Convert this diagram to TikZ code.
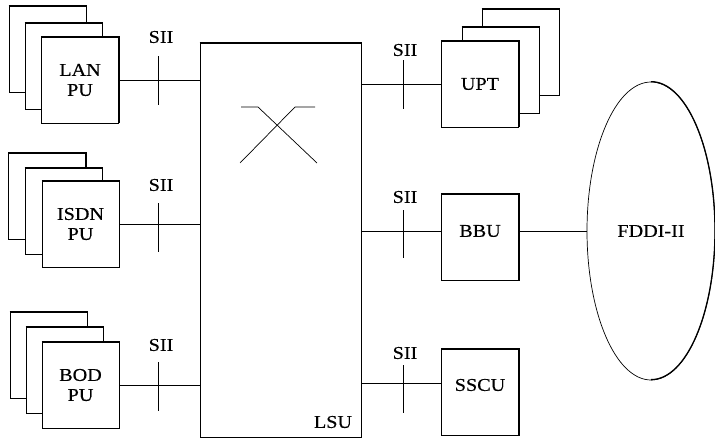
\documentclass[tikz,border=0pt]{standalone}
\usepackage{fontspec}
\setmainfont{Liberation Serif}[FakeStretch=1.12, FakeBold=0.4]
\usetikzlibrary{shapes.geometric}
\newcommand\lblfont{\fontsize{18}{20}\selectfont}
\tikzset{
  conn/.style={line width=0.7pt},
  tickmark/.style={line width=0.7pt},
  heavy/.style={line width=1.6pt},
  card/.style={draw, line width=0.7pt, fill=white, minimum width=77pt, minimum height=86pt,
    inner sep=0pt, align=center, font=\lblfont},
  lbl/.style={font=\lblfont, inner sep=0pt},
}
\newcommand\pucard[3]{%
  \node[card] (#1) at (#2) {#3};
  \draw[heavy] (#1.north west) -- (#1.north east) -- (#1.south east);}
\begin{document}
\begin{tikzpicture}[x=1pt, y=-1pt]
\useasboundingbox (0,0) rectangle (715,439);
% LAN PU stack
\pucard{lanc}{47.5,49.5}{}
\pucard{lanb}{63.5,66}{}
\pucard{lan}{80,80}{LAN\\PU}
% ISDN PU stack
\pucard{isdnc}{47,196}{}
\pucard{isdnb}{63.5,211}{}
\pucard{isdn}{80.5,224}{ISDN\\PU}
% BOD PU stack
\pucard{bodc}{48.5,355}{}
\pucard{bodb}{64.5,370}{}
\pucard{bod}{80.5,385}{BOD\\PU}
% UPT stack
\pucard{uptc}{520.5,52.5}{}
\pucard{uptb}{500.5,70}{}
\pucard{upt}{480,84}{UPT}
% BBU, SSCU
\pucard{bbu}{480,237.5}{}
\node[lbl] (bbut) at (480,231) {BBU};
\pucard{sscu}{480,392.5}{}
\node[lbl] (sscut) at (480,385) {SSCU};
% LSU
\node[draw, line width=0.7pt, minimum width=161pt, minimum height=394pt, inner sep=0pt] (lsu) at (280.5,240) {};
\draw[heavy] (lsu.north west) -- (lsu.north east) -- (lsu.south east);
\node[lbl] (lsut) at (333,422) {LSU};
% crossing symbol
\draw[conn] (241,107) -- (258,107) -- (317,163);
\draw[conn] (315,107) -- (295,107) -- (240,163);
% FDDI-II ring
\node[ellipse, draw, line width=0.7pt, minimum width=128pt, minimum height=298pt, inner sep=0pt, font=\lblfont] (fddi) at (651,231) {FDDI-II};
\draw[line width=1.3pt] (fddi.north) arc[start angle=90, end angle=-90, x radius=64pt, y radius=149pt];
% connectors
\coordinate (bbuin) at (442,231);
\coordinate (sscuin) at (442,383);
\draw[conn] (lan.east) -- (lan.east -| lsu.west);
\draw[conn] (isdn.east) -- (isdn.east -| lsu.west);
\draw[conn] (bod.east) -- (bod.east -| lsu.west);
\draw[conn] (lsu.east |- upt.west) -- (upt.west);
\draw[conn] (lsu.east |- bbuin) -- (bbuin);
\draw[conn] (lsu.east |- sscuin) -- (sscuin);
\draw[conn] (bbu.east |- fddi.west) -- (fddi.west);
% SII ticks and labels
\draw[tickmark] (158,56) -- (158,105);
\draw[tickmark] (158,203) -- (158,252);
\draw[tickmark] (158,362) -- (158,411);
\draw[tickmark] (403,60) -- (403,109);
\draw[tickmark] (403,210) -- (403,258);
\draw[tickmark] (403,365) -- (403,413);
\node[lbl] (s1) at (161,37) {SII};
\node[lbl] (s2) at (161,185) {SII};
\node[lbl] (s3) at (161,345) {SII};
\node[lbl] (s4) at (405,50) {SII};
\node[lbl] (s5) at (405,197) {SII};
\node[lbl] (s6) at (405,353) {SII};
\end{tikzpicture}
\end{document}
